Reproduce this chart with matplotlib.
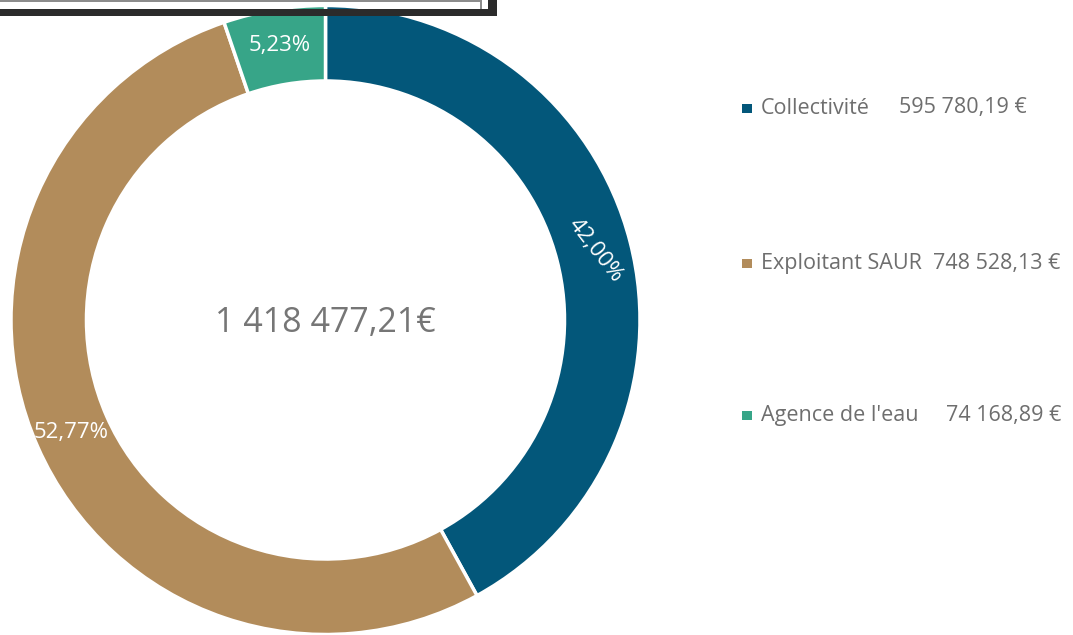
import numpy as np
import matplotlib
matplotlib.use("Agg")
import matplotlib.pyplot as plt
from matplotlib.patches import Rectangle

plt.rcParams['font.family'] = ['Open Sans', 'DejaVu Sans']

# data
categories = ["Collectivité", "Exploitant SAUR", "Agence de l'eau"]
amounts = [595780.19, 748528.13, 74168.89]
amount_labels = ["595 780,19 €", "748 528,13 €", "74 168,89 €"]
colors = ["#03577A", "#B28C5B", "#37A588"]
total_label = "1 418 477,21€"

W, H = 1073, 635
fig = plt.figure(figsize=(W / 100, H / 100), dpi=100)

# donut axes: centre (325.5, 320) px, outer radius 314.5 px
cx, cy, R = 325.5, 320, 314.5
ax = fig.add_axes([(cx - R) / W, (H - cy - R) / H, 2 * R / W, 2 * R / H])
wedges, _ = ax.pie(amounts, colors=colors, startangle=90, counterclock=False,
                   radius=1.0,
                   wedgeprops=dict(width=0.24, edgecolor="white", linewidth=2.5))
ax.set_xlim(-1, 1)
ax.set_ylim(-1, 1)
ax.set_aspect("equal")
ax.axis("off")

# percentage labels
total = sum(amounts)
rotations = [-52, 0, 0]
for w, val, rot in zip(wedges, amounts, rotations):
    mid = np.deg2rad((w.theta1 + w.theta2) / 2)
    r = 0.885
    pct = f"{100 * val / total:.2f}%".replace(".", ",")
    ax.text(r * np.cos(mid), r * np.sin(mid), pct, color="white",
            fontsize=16, ha="center", va="center", rotation=rot,
            rotation_mode="anchor")

ax.text(0, -0.01, total_label, ha="center", va="center", fontsize=24.5,
        color="#767676")

# legend drawn by hand
legend_y = [108, 263, 415]
value_x = [899, 933, 946]
for name, val, col, y, vx in zip(categories, amount_labels, colors, legend_y, value_x):
    fig.add_artist(Rectangle((742 / W, 1 - (y + 5) / H), 10 / W, 9 / H,
                             transform=fig.transFigure, color=col, lw=0))
    fig.text(761 / W, 1 - y / H, name, ha="left", va="center",
             fontsize=15.5, color="#6e6e6e")
    fig.text(vx / W, 1 - y / H, val, ha="left", va="center",
             fontsize=15.5, color="#6e6e6e")

# cropped frame at the top left
def band(x0, y0, x1, y1, col):
    fig.add_artist(Rectangle((x0 / W, 1 - y1 / H), (x1 - x0) / W, (y1 - y0) / H,
                             transform=fig.transFigure, color=col, lw=0, zorder=5))

band(0, 8.5, 497, 15.5, "#2b2b2b")
band(488, 0, 497, 15.5, "#2b2b2b")
band(0, 0, 482, 1.5, "#8c8c8c")
band(480, 0, 482, 8.5, "#8c8c8c")

fig.savefig("out.png", dpi=100)
